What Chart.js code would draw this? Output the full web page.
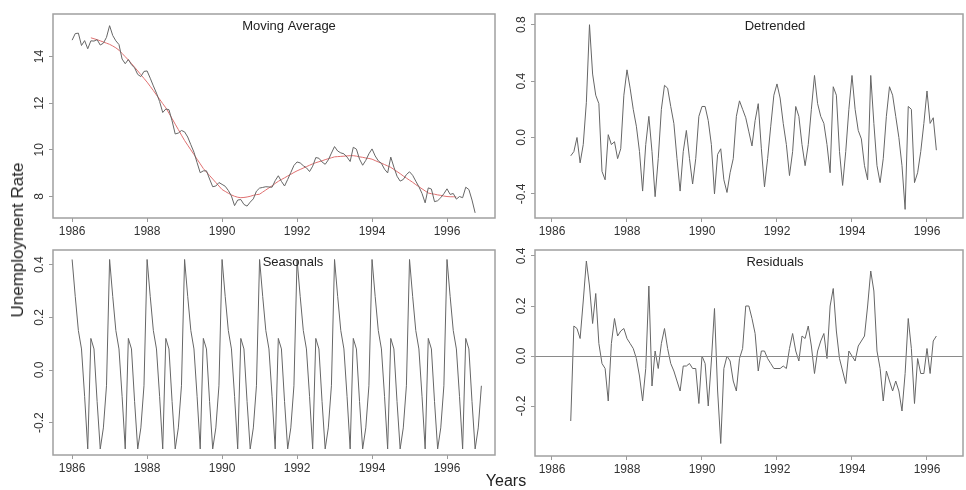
<!DOCTYPE html>
<html>
<head>
<meta charset="utf-8">
<title>Unemployment Rate decomposition</title>
<script src="https://cdn.jsdelivr.net/npm/chart.js@4.4.1/dist/chart.umd.min.js"></script>
<style>
  body { margin: 0; background: #fff; width: 966px; height: 490px; position: relative; overflow: hidden;
         font-family: "Liberation Sans", Arial, sans-serif; }
  canvas { position: absolute; }
  .ylab { position: absolute; left: 18px; top: 240px; transform: translate(-50%, -50%) rotate(-90deg);
          white-space: nowrap; font-size: 17px; color: #222; }
  .xlab { position: absolute; left: 506px; top: 481px; transform: translate(-50%, -50%);
          font-size: 16px; color: #222; }
</style>
</head>
<body>
<canvas id="ma" width="480" height="246" style="left:20px;top:4px"></canvas>
<canvas id="detr" width="461" height="246" style="left:505px;top:4px"></canvas>
<canvas id="seas" width="480" height="245" style="left:20px;top:240px"></canvas>
<canvas id="resid" width="461" height="245" style="left:505px;top:240px"></canvas>
<div class="ylab">Unemployment Rate</div>
<div class="xlab">Years</div>
<script>
// monthly series, first value is January 1986
const startYear = 1986;
const yearTicks = [1986, 1988, 1990, 1992, 1994, 1996];

// unemployment rate, Jan 1986 - Oct 1996
const rate = [
  14.70, 14.98, 15.00, 14.47, 14.68, 14.33, 14.67, 14.66, 14.72, 14.49, 14.57, 14.82,
  15.32, 14.90, 14.67, 14.51, 13.89, 13.69, 13.87, 13.65, 13.51, 13.23, 13.14, 13.36,
  13.38, 13.07, 12.74, 12.43, 12.07, 11.60, 11.75, 11.72, 11.24, 10.68, 10.72, 10.83,
  10.77, 10.55, 10.22, 9.90, 9.45, 9.02, 9.10, 9.10, 8.75, 8.42, 8.45, 8.60,
  8.52, 8.44, 8.26, 8.02, 7.61, 7.85, 7.87, 7.66, 7.59, 7.76, 7.90, 8.23,
  8.36, 8.39, 8.42, 8.41, 8.40, 8.68, 8.89, 8.65, 8.45, 8.73, 9.03, 9.33,
  9.48, 9.44, 9.32, 9.23, 9.07, 9.30, 9.67, 9.64, 9.48, 9.38, 9.57, 9.86,
  10.14, 9.95, 9.87, 9.83, 9.69, 9.50, 10.11, 10.03, 9.60, 9.34, 9.55, 9.83,
  10.04, 9.74, 9.53, 9.42, 9.17, 9.01, 9.69, 9.26, 8.87, 8.66, 8.73, 8.94,
  9.06, 8.91, 8.66, 8.42, 8.13, 7.73, 8.37, 8.32, 7.78, 7.82, 7.95, 8.12,
  8.33, 8.09, 8.13, 7.89, 8.00, 7.95, 8.40, 8.30, 7.85, 7.30
];

// centred 12-month moving average, Jul 1986 - Apr 1996
const trendStart = 6;
const movingAvg = [
  14.80, 14.76, 14.72, 14.67, 14.62, 14.57,
  14.52, 14.45, 14.37, 14.27, 14.13, 13.99, 13.85, 13.70, 13.54, 13.38, 13.22, 13.06,
  12.90, 12.72, 12.54, 12.35, 12.17, 11.98, 11.80, 11.57, 11.34, 11.10, 10.87, 10.63,
  10.40, 10.20, 10.00, 9.80, 9.60, 9.40, 9.20, 9.05, 8.90, 8.75, 8.60, 8.45,
  8.30, 8.22, 8.14, 8.07, 8.01, 7.97, 7.95, 7.96, 7.98, 8.01, 8.05, 8.08,
  8.10, 8.19, 8.28, 8.37, 8.46, 8.56, 8.65, 8.73, 8.80, 8.88, 8.95, 9.03,
  9.10, 9.16, 9.22, 9.28, 9.34, 9.40, 9.45, 9.49, 9.53, 9.58, 9.62, 9.66,
  9.70, 9.71, 9.72, 9.73, 9.74, 9.75, 9.75, 9.73, 9.70, 9.68, 9.65, 9.63,
  9.60, 9.54, 9.48, 9.43, 9.37, 9.31, 9.25, 9.16, 9.07, 8.98, 8.88, 8.79,
  8.70, 8.61, 8.51, 8.42, 8.33, 8.24, 8.15, 8.12, 8.10, 8.07, 8.05, 8.02,
  8.00, 7.99, 7.99, 7.98
];

// rate minus moving average, Jul 1986 - Apr 1996
const detrended = [
  -0.13, -0.10, 0.00, -0.18, -0.05, 0.25,
  0.80, 0.45, 0.30, 0.24, -0.24, -0.30, 0.02, -0.05, -0.03, -0.15, -0.08, 0.30,
  0.48, 0.35, 0.20, 0.08, -0.10, -0.38, -0.05, 0.15, -0.10, -0.42, -0.15, 0.20,
  0.37, 0.35, 0.22, 0.10, -0.15, -0.38, -0.10, 0.05, -0.15, -0.33, -0.15, 0.15,
  0.22, 0.22, 0.12, -0.05, -0.40, -0.12, -0.08, -0.30, -0.39, -0.25, -0.15, 0.15,
  0.26, 0.20, 0.14, 0.04, -0.06, 0.12, 0.24, -0.08, -0.35, -0.15, 0.08, 0.30,
  0.38, 0.28, 0.10, -0.05, -0.27, -0.10, 0.22, 0.15, -0.05, -0.20, -0.05, 0.20,
  0.44, 0.24, 0.15, 0.10, -0.05, -0.25, 0.36, 0.30, -0.10, -0.34, -0.10, 0.20,
  0.44, 0.20, 0.05, -0.01, -0.20, -0.30, 0.44, 0.10, -0.20, -0.32, -0.15, 0.15,
  0.36, 0.30, 0.15, 0.00, -0.20, -0.51, 0.22, 0.20, -0.32, -0.25, -0.10, 0.10,
  0.33, 0.10, 0.14, -0.09
];

// seasonal component, Jan 1986 - Dec 1996
const seasonals = [
  0.42, 0.28, 0.15, 0.08, -0.10, -0.30, 0.12, 0.08, -0.12, -0.30, -0.22, -0.06,
  0.42, 0.28, 0.15, 0.08, -0.10, -0.30, 0.12, 0.08, -0.12, -0.30, -0.22, -0.06,
  0.42, 0.28, 0.15, 0.08, -0.10, -0.30, 0.12, 0.08, -0.12, -0.30, -0.22, -0.06,
  0.42, 0.28, 0.15, 0.08, -0.10, -0.30, 0.12, 0.08, -0.12, -0.30, -0.22, -0.06,
  0.42, 0.28, 0.15, 0.08, -0.10, -0.30, 0.12, 0.08, -0.12, -0.30, -0.22, -0.06,
  0.42, 0.28, 0.15, 0.08, -0.10, -0.30, 0.12, 0.08, -0.12, -0.30, -0.22, -0.06,
  0.42, 0.28, 0.15, 0.08, -0.10, -0.30, 0.12, 0.08, -0.12, -0.30, -0.22, -0.06,
  0.42, 0.28, 0.15, 0.08, -0.10, -0.30, 0.12, 0.08, -0.12, -0.30, -0.22, -0.06,
  0.42, 0.28, 0.15, 0.08, -0.10, -0.30, 0.12, 0.08, -0.12, -0.30, -0.22, -0.06,
  0.42, 0.28, 0.15, 0.08, -0.10, -0.30, 0.12, 0.08, -0.12, -0.30, -0.22, -0.06,
  0.42, 0.28, 0.15, 0.08, -0.10, -0.30, 0.12, 0.08, -0.12, -0.30, -0.22, -0.06
];

// irregular component, Jul 1986 - Apr 1996
const residuals = [
  -0.26, 0.12, 0.11, 0.07, 0.22, 0.38,
  0.28, 0.13, 0.25, 0.05, -0.03, -0.05, -0.18, 0.05, 0.15, 0.08, 0.10, 0.11,
  0.07, 0.05, 0.03, -0.01, -0.08, -0.18, -0.05, 0.28, -0.12, 0.02, -0.05, 0.05,
  0.11, 0.03, -0.03, -0.06, -0.10, -0.14, -0.04, -0.04, -0.03, -0.05, -0.05, -0.19,
  0.00, -0.03, -0.20, -0.02, 0.19, -0.14, -0.35, -0.05, 0.00, -0.02, -0.10, -0.14,
  -0.01, 0.03, 0.20, 0.20, 0.15, 0.09, -0.06, 0.02, 0.02, -0.01, -0.03, -0.05,
  -0.05, -0.05, -0.04, -0.05, 0.03, 0.09, 0.02, -0.02, 0.08, 0.07, 0.12, 0.04,
  -0.07, 0.02, 0.06, 0.09, -0.01, 0.20, 0.27, 0.10, -0.01, -0.06, -0.11, 0.02,
  0.00, -0.02, 0.04, 0.06, 0.08, 0.20, 0.34, 0.26, 0.02, -0.05, -0.18, -0.06,
  -0.10, -0.14, -0.10, -0.14, -0.22, -0.07, 0.15, 0.03, -0.19, -0.01, -0.07, -0.07,
  0.03, -0.07, 0.06, 0.08
];

const rateTicks = [8, 10, 12, 14];
const detrTicks = [-0.4, 0.0, 0.4, 0.8];
const seasTicks = [-0.2, 0.0, 0.2, 0.4];
const residTicks = [-0.2, 0.0, 0.2, 0.4];

const FONT = '"Liberation Sans", Arial, sans-serif';
Chart.defaults.font.family = FONT;
Chart.defaults.font.size = 12;
Chart.defaults.color = '#333';

function toPoints(vals, offset) {
  return vals.map((v, i) => ({ x: startYear + (offset + i) / 12, y: v }));
}

// box, rotated y labels, optional zero line and the panel title
const framePlugin = {
  id: 'frame',
  afterDraw(chart, args, opts) {
    const { ctx, chartArea: a } = chart;
    const ys = chart.scales.y;
    ctx.save();
    if (opts.zeroLine) {
      const py = Math.round(ys.getPixelForValue(0)) + 0.5;
      ctx.strokeStyle = '#8a8a8a';
      ctx.lineWidth = 1;
      ctx.beginPath();
      ctx.moveTo(a.left, py);
      ctx.lineTo(a.right, py);
      ctx.stroke();
    }
    ctx.strokeStyle = '#a0a0a0';
    ctx.lineWidth = 1.5;
    ctx.strokeRect(a.left, a.top, a.right - a.left, a.bottom - a.top);

    ctx.fillStyle = '#333';
    ctx.font = '12px ' + FONT;
    ctx.textAlign = 'center';
    ctx.textBaseline = 'middle';
    ys.ticks.forEach(t => {
      const py = ys.getPixelForValue(t.value);
      ctx.save();
      ctx.translate(a.left - opts.labelGap, py);
      ctx.rotate(-Math.PI / 2);
      ctx.fillText(t.value.toFixed(opts.decimals), 0, 0);
      ctx.restore();
    });

    ctx.fillStyle = '#222';
    ctx.font = '13px ' + FONT;
    ctx.fillText(opts.title, (a.left + a.right) / 2 + opts.titleShift, a.top + 12);
    ctx.restore();
  }
};

function makePanel(id, p) {
  const datasets = p.series.map(s => ({
    data: s.data,
    borderColor: s.color,
    borderWidth: 1,
    pointRadius: 0,
    tension: 0,
    fill: false
  }));
  return new Chart(document.getElementById(id), {
    type: 'line',
    data: { datasets },
    plugins: [framePlugin],
    options: {
      responsive: false,
      animation: false,
      devicePixelRatio: 1,
      layout: { padding: { top: 10, right: p.right, left: 0, bottom: 0 } },
      plugins: {
        legend: { display: false },
        tooltip: { enabled: false },
        frame: {
          title: p.title,
          titleShift: p.titleShift,
          decimals: p.decimals,
          labelGap: 13,
          zeroLine: !!p.zeroLine
        }
      },
      scales: {
        x: {
          type: 'linear',
          min: p.xMin,
          max: p.xMax,
          afterBuildTicks: s => { s.ticks = yearTicks.map(v => ({ value: v })); },
          afterFit: s => { s.height = p.xHeight; },
          ticks: { callback: v => String(v), maxRotation: 0, autoSkip: false, padding: 2, color: '#333' },
          grid: { drawOnChartArea: false, tickLength: 4, color: '#9a9a9a' },
          border: { display: false }
        },
        y: {
          type: 'linear',
          min: p.yMin,
          max: p.yMax,
          afterBuildTicks: s => { s.ticks = p.yTicks.map(v => ({ value: v })); },
          afterFit: s => { s.width = p.yWidth; },
          ticks: { display: false },
          grid: { drawOnChartArea: false, tickLength: 4, color: '#9a9a9a' },
          border: { display: false }
        }
      }
    }
  });
}

const LINE = '#666';

makePanel('ma', {
  title: 'Moving Average', titleShift: 15, decimals: 0,
  series: [
    { data: toPoints(rate, 0), color: LINE },
    { data: toPoints(movingAvg, trendStart), color: '#e07070' }
  ],
  xMin: 1985.49, xMax: 1997.28, yMin: 7.08, yMax: 15.82, yTicks: rateTicks,
  yWidth: 33, xHeight: 32, right: 5
});

makePanel('detr', {
  title: 'Detrended', titleShift: 26, decimals: 1,
  series: [{ data: toPoints(detrended, trendStart), color: LINE }],
  xMin: 1985.547, xMax: 1996.96, yMin: -0.571, yMax: 0.876, yTicks: detrTicks,
  yWidth: 30, xHeight: 32, right: 3
});

makePanel('seas', {
  title: 'Seasonals', titleShift: 19, decimals: 1,
  series: [{ data: toPoints(seasonals, 0), color: LINE }],
  xMin: 1985.49, xMax: 1997.28, yMin: -0.323, yMax: 0.456, yTicks: seasTicks,
  yWidth: 33, xHeight: 30, right: 5
});

makePanel('resid', {
  title: 'Residuals', titleShift: 26, decimals: 1, zeroLine: true,
  series: [{ data: toPoints(residuals, trendStart), color: LINE }],
  xMin: 1985.547, xMax: 1996.96, yMin: -0.40, yMax: 0.424, yTicks: residTicks,
  yWidth: 30, xHeight: 29, right: 3
});
</script>
</body>
</html>
